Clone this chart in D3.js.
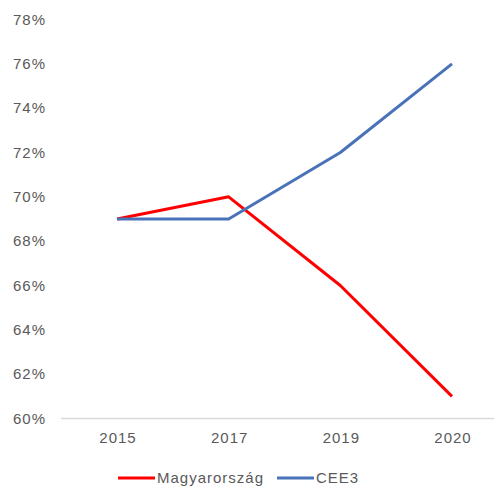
<!DOCTYPE html>
<meta charset="utf-8">
<style>
body { margin: 0; background: #fff; }
text { font-family: "Liberation Sans", Arial, sans-serif; font-size: 15px; letter-spacing: 1px; fill: #595959; }
</style>
<body>
<script src="https://d3js.org/d3.v7.min.js"></script>
<script>
// years on the x axis
var years = ["2015", "2017", "2019", "2020"];
// share in percent
var magyar = [69, 70, 66, 61];
var cee3 = [69, 69, 72, 76];
var yTicks = [60, 62, 64, 66, 68, 70, 72, 74, 76, 78];

var series = [
  {name: "Magyarország", values: magyar, color: "#ff0000"},
  {name: "CEE3", values: cee3, color: "#4a72b8"}
];

var W = 494, H = 486;
var svg = d3.select("body").append("svg").attr("width", W).attr("height", H);

var x = d3.scalePoint().domain(years).range([117, 452]);
var y = d3.scaleLinear().domain([60, 78]).range([418.5, 19.5]);

// baseline
svg.append("line")
  .attr("x1", 61).attr("x2", 494)
  .attr("y1", y(60)).attr("y2", y(60))
  .attr("stroke", "#d9d9d9").attr("stroke-width", 1.5);

// y tick labels
svg.append("g").selectAll("text")
  .data(yTicks).enter().append("text")
  .attr("x", 46)
  .attr("y", function(d){ return y(d); })
  .attr("dy", "0.35em")
  .attr("text-anchor", "end")
  .text(function(d){ return d + "%"; });

// x tick labels
svg.append("g").selectAll("text")
  .data(years).enter().append("text")
  .attr("x", function(d){ return x(d) + 1; })
  .attr("y", 438)
  .attr("dy", "0.35em")
  .attr("text-anchor", "middle")
  .text(function(d){ return d; });

var line = d3.line()
  .x(function(d, i){ return x(years[i]); })
  .y(function(d){ return y(d); });

svg.append("g").selectAll("path")
  .data(series).enter().append("path")
  .attr("d", function(s){ return line(s.values); })
  .attr("fill", "none")
  .attr("stroke", function(s){ return s.color; })
  .attr("stroke-width", 3)
  .attr("stroke-linejoin", "round");

// legend
var legendX = [118, 277];
var lg = svg.append("g").selectAll("g")
  .data(series).enter().append("g")
  .attr("transform", function(s, i){ return "translate(" + legendX[i] + ",478)"; });
lg.append("line")
  .attr("x1", 0).attr("x2", 37)
  .attr("stroke", function(s){ return s.color; })
  .attr("stroke-width", 3);
lg.append("text")
  .attr("x", 39)
  .attr("dy", "0.35em")
  .text(function(s){ return s.name; });
</script>
</body>
